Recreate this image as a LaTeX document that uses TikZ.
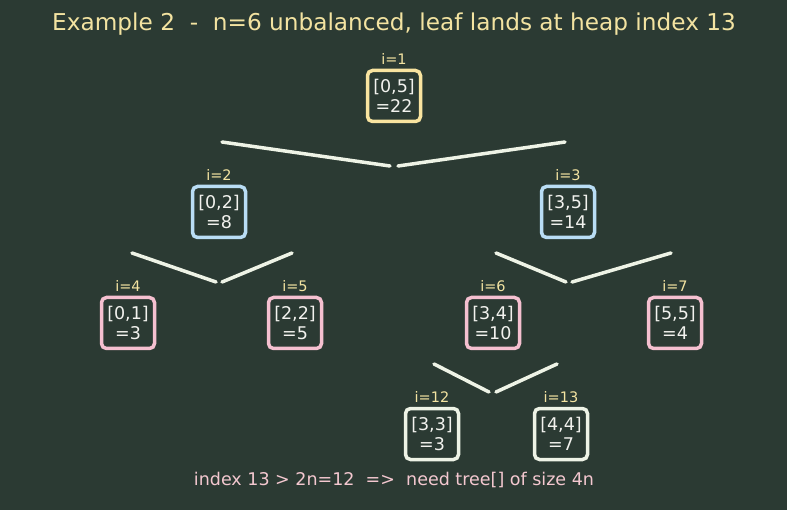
\documentclass[tikz,border=0pt]{standalone}
\usepackage{fontspec}
\setmainfont{DejaVu Sans}
\usetikzlibrary{positioning}

\definecolor{bgcol}{HTML}{2B3A33}
\definecolor{txtcol}{HTML}{F2F2EE}
\definecolor{idxcol}{HTML}{F3E3A1}
\definecolor{rootcol}{HTML}{F9E4A0}
\definecolor{blucol}{HTML}{B9DDF5}
\definecolor{pnkcol}{HTML}{F5C0D0}
\definecolor{whtcol}{HTML}{EEF3E6}
\definecolor{notecol}{HTML}{F4C8D0}

\tikzset{
  segbox/.style={draw=#1, line width=3.5pt, rounded corners=5pt, fill=bgcol,
    minimum width=53pt, minimum height=51pt, inner sep=0pt, align=center,
    text=txtcol, font=\fontsize{17.5}{20.5}\selectfont},
  idx/.style={text=idxcol, font=\fontsize{14.5}{16}\selectfont, inner sep=1pt},
  edge/.style={draw=whtcol, line width=3.5pt, line cap=round}
}

\begin{document}
\begin{tikzpicture}[x=1pt,y=-1pt]
    \fill[bgcol] (0,0) rectangle (787,510);
    \useasboundingbox (0,0) rectangle (787,510);

    \node[text=idxcol, font=\fontsize{23.2}{27}\selectfont] (title) at (394,24)
        {Example 2\ \ -\ \ n=6 unbalanced, leaf lands at heap index 13};

    % tree nodes
    \node[segbox=rootcol] (n1) at (394,96) {[0,5]\\=22};
    \node[segbox=blucol] (n2) at (219,212) {[0,2]\\=8};
    \node[segbox=blucol] (n3) at (568,212) {[3,5]\\=14};
    \node[segbox=pnkcol] (n4) at (128,323) {[0,1]\\=3};
    \node[segbox=pnkcol] (n5) at (295,323) {[2,2]\\=5};
    \node[segbox=pnkcol] (n6) at (493,323) {[3,4]\\=10};
    \node[segbox=pnkcol] (n7) at (675,323) {[5,5]\\=4};
    \node[segbox=whtcol] (n12) at (432,434) {[3,3]\\=3};
    \node[segbox=whtcol] (n13) at (561,434) {[4,4]\\=7};

    % heap indices
    \node[idx, above=3pt of n1] (i1) {i=1};
    \node[idx, above=3pt of n2] (i2) {i=2};
    \node[idx, above=3pt of n3] (i3) {i=3};
    \node[idx, above=3pt of n4] (i4) {i=4};
    \node[idx, above=3pt of n5] (i5) {i=5};
    \node[idx, above=3pt of n6] (i6) {i=6};
    \node[idx, above=3pt of n7] (i7) {i=7};
    \node[idx, above=3pt of n12] (i12) {i=12};
    \node[idx, above=3pt of n13] (i13) {i=13};

    % edge ends
    \coordinate (a1) at (222,142); \coordinate (b1) at (390,166);
    \coordinate (c1) at (398,166); \coordinate (d1) at (565,142);
    \coordinate (a2) at (132,253); \coordinate (b2) at (216,282);
    \coordinate (c2) at (222,282); \coordinate (d2) at (292,253);
    \coordinate (a3) at (496,253); \coordinate (b3) at (566,282);
    \coordinate (c3) at (572,282); \coordinate (d3) at (671,253);
    \coordinate (a6) at (434,364); \coordinate (b6) at (489,392);
    \coordinate (c6) at (496,392); \coordinate (d6) at (557,364);

    \draw[edge] (a1) -- (b1);
    \draw[edge] (c1) -- (d1);
    \draw[edge] (a2) -- (b2);
    \draw[edge] (c2) -- (d2);
    \draw[edge] (a3) -- (b3);
    \draw[edge] (c3) -- (d3);
    \draw[edge] (a6) -- (b6);
    \draw[edge] (c6) -- (d6);

    \node[text=notecol, font=\fontsize{17.5}{20}\selectfont] (note) at (394,480)
        {index 13 > 2n=12\ \ =>\ \ need tree[] of size 4n};
\end{tikzpicture}
\end{document}
